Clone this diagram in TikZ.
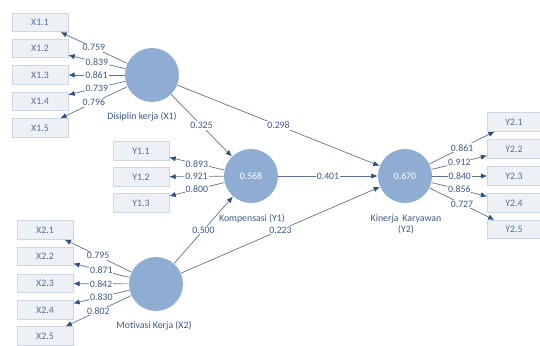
\documentclass[tikz,border=0pt]{standalone}
\usepackage{fontspec}
\setmainfont{Carlito}
\usetikzlibrary{arrows.meta}
\definecolor{latentfill}{RGB}{143,172,210}
\definecolor{boxfill}{RGB}{237,241,246}
\definecolor{boxline}{RGB}{206,215,228}
\definecolor{boxtext}{RGB}{85,110,148}
\definecolor{pathline}{RGB}{95,115,145}
\definecolor{tipcol}{RGB}{45,80,130}
\definecolor{coeftext}{RGB}{60,90,135}
\newcommand{\smallfont}{\fontsize{5.6}{6.4}\selectfont}

\begin{document}
\begin{tikzpicture}[x=0.02cm,y=-0.02cm,
        indicator/.style={draw=boxline, fill=boxfill, minimum width=1.12cm, minimum height=0.37cm, inner sep=0pt, text=boxtext, font=\smallfont},
        latentvar/.style={circle, fill=latentfill, minimum size=1.08cm, inner sep=0pt, text=white, font=\smallfont},
        loading/.style={draw=pathline, line width=0.4pt, -{Latex[length=3.6pt,width=3pt,color=tipcol]}},
        coef/.style={fill=white, inner sep=0.5pt, text=coeftext, font=\smallfont},
        caption/.style={text=coeftext, font=\smallfont, align=center}]

    \useasboundingbox (0,0) rectangle (540,345);

    % latent variables
    \node[latentvar] (x1) at (152,75) {};
    \node[latentvar] (y1) at (251,176) {0.568};
    \node[latentvar] (y2) at (405,176) {0.670};
    \node[latentvar] (x2) at (156,284) {};

    \node[caption] (x1cap) at (142,117) {Disiplin kerja (X1)};
    \node[caption] (y1cap) at (252,219) {Kompensasi (Y1)};
    \node[caption] (y2cap) at (406,224) {Kinerja \,Karyawan\\(Y2)};
    \node[caption] (x2cap) at (154,326) {Motivasi Kerja (X2)};

    % indicators
    \node[indicator] (x11) at (40,22.5) {X1.1};
    \node[indicator] (x12) at (40,48.5) {X1.2};
    \node[indicator] (x13) at (40,75) {X1.3};
    \node[indicator] (x14) at (40,101.5) {X1.4};
    \node[indicator] (x15) at (40,128) {X1.5};

    \node[indicator] (y11) at (141,151) {Y1.1};
    \node[indicator] (y12) at (141,177) {Y1.2};
    \node[indicator] (y13) at (141,203) {Y1.3};

    \node[indicator] (x21) at (45,230) {X2.1};
    \node[indicator] (x22) at (45,256.5) {X2.2};
    \node[indicator] (x23) at (45,283.5) {X2.3};
    \node[indicator] (x24) at (45,310) {X2.4};
    \node[indicator] (x25) at (45,336) {X2.5};

    \node[indicator, minimum width=1.06cm] (y21) at (514,122) {Y2.1};
    \node[indicator, minimum width=1.06cm] (y22) at (514,149) {Y2.2};
    \node[indicator, minimum width=1.06cm] (y23) at (514,176) {Y2.3};
    \node[indicator, minimum width=1.06cm] (y24) at (514,203) {Y2.4};
    \node[indicator, minimum width=1.06cm] (y25) at (514,229.5) {Y2.5};

    % outer loadings
    \draw[loading] (x1) -- node[coef] {0.759} (x11);
    \draw[loading] (x1) -- node[coef] {0.839} (x12);
    \draw[loading] (x1) -- node[coef] {0.861} (x13);
    \draw[loading] (x1) -- node[coef] {0.739} (x14);
    \draw[loading] (x1) -- node[coef] {0.796} (x15);

    \draw[loading] (y1) -- node[coef] {0.893} (y11);
    \draw[loading] (y1) -- node[coef] {0.921} (y12);
    \draw[loading] (y1) -- node[coef] {0.800} (y13);

    \draw[loading] (x2) -- node[coef] {0.795} (x21);
    \draw[loading] (x2) -- node[coef] {0.871} (x22);
    \draw[loading] (x2) -- node[coef] {0.842} (x23);
    \draw[loading] (x2) -- node[coef] {0.830} (x24);
    \draw[loading] (x2) -- node[coef] {0.802} (x25);

    \draw[loading] (y2) -- node[coef] {0.861} (y21);
    \draw[loading] (y2) -- node[coef] {0.912} (y22);
    \draw[loading] (y2) -- node[coef] {0.840} (y23);
    \draw[loading] (y2) -- node[coef] {0.856} (y24);
    \draw[loading] (y2) -- node[coef] {0.727} (y25);

    % path coefficients
    \draw[loading] (x1) -- node[coef] {0.325} (y1);
    \draw[loading] (x1) -- node[coef] {0.298} (y2);
    \draw[loading] (y1) -- node[coef] {0.401} (y2);
    \draw[loading] (x2) -- node[coef] {0.500} (y1);
    \draw[loading] (x2) -- node[coef] {0.223} (y2);
\end{tikzpicture}
\end{document}
